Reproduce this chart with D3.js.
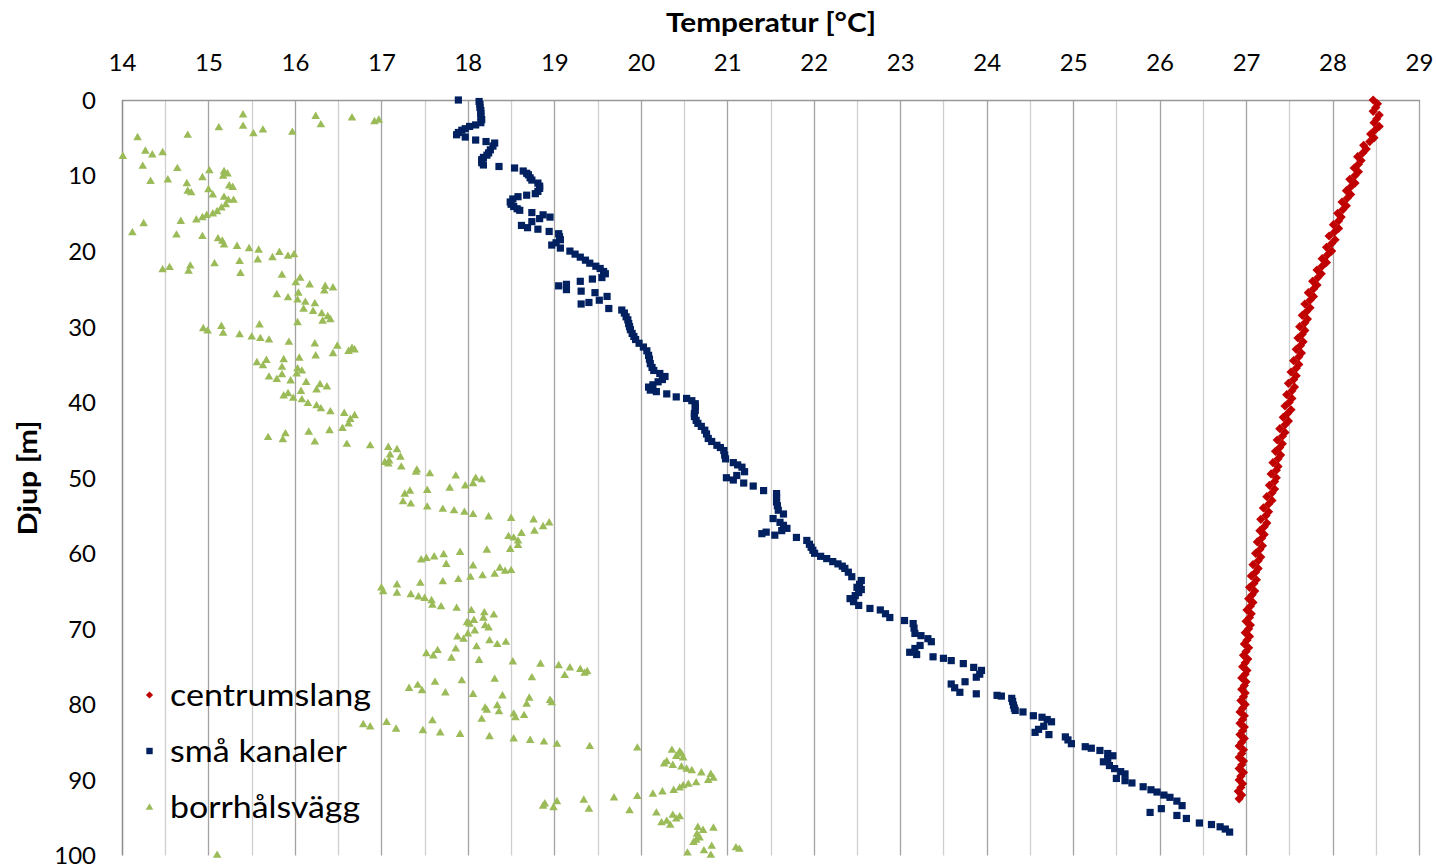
<!DOCTYPE html>
<html>
<head>
<meta charset="utf-8">
<script src="https://cdn.jsdelivr.net/npm/d3@7"></script>
<style>
  html, body { margin: 0; padding: 0; background: #ffffff; }
  svg { display: block; }
  text { font-family: Lato, "Open Sans", "Noto Sans", sans-serif; fill: #000; }
</style>
</head>
<body>
<svg id="chart" width="1436" height="868"></svg>
<script>
// Axis ticks
const tempTicks = [14, 15, 16, 17, 18, 19, 20, 21, 22, 23, 24, 25, 26, 27, 28, 29];
const tempMinorTicks = [14.5, 15.5, 16.5, 17.5, 18.5, 19.5, 20.5, 21.5, 22.5, 23.5, 24.5, 25.5, 26.5, 27.5, 28.5];
const depthTicks = [0, 10, 20, 30, 40, 50, 60, 70, 80, 90, 100];

// Series names
const seriesNames = ["centrumslang", "små kanaler", "borrhålsvägg"];

// centrumslang: [depth m, temperature °C]
const centrumslang = [
[0,28.47],[0.5,28.52],[1,28.50],[1.5,28.47],[2,28.54],[2.5,28.51],[3,28.48],[3.5,28.54],[4,28.49],[4.5,28.44],
[5,28.48],[5.5,28.43],[6,28.36],[6.5,28.39],[7,28.35],[7.5,28.29],[8,28.33],[8.5,28.30],[9,28.25],[9.5,28.30],
[10,28.26],[10.5,28.20],[11,28.26],[11.5,28.21],[12,28.16],[12.5,28.21],[13,28.17],[13.5,28.11],[14,28.16],[14.5,28.12],
[15,28.06],[15.5,28.10],[16,28.07],[16.5,28.01],[17,28.07],[17.5,28.02],[18,27.96],[18.5,28.03],[19,27.99],[19.5,27.93],
[20,27.99],[20.5,27.94],[21,27.88],[21.5,27.93],[22,27.88],[22.5,27.82],[23,27.87],[23.5,27.83],[24,27.77],[24.5,27.82],
[25,27.78],[25.5,27.72],[26,27.78],[26.5,27.74],[27,27.68],[27.5,27.74],[28,27.70],[28.5,27.65],[29,27.71],[29.5,27.68],
[30,27.62],[30.5,27.68],[31,27.65],[31.5,27.60],[32,27.66],[32.5,27.63],[33,27.58],[33.5,27.64],[34,27.61],[34.5,27.55],
[35,27.61],[35.5,27.58],[36,27.52],[36.5,27.58],[37,27.55],[37.5,27.49],[38,27.56],[38.5,27.53],[39,27.47],[39.5,27.53],
[40,27.50],[40.5,27.45],[41,27.52],[41.5,27.48],[42,27.43],[42.5,27.49],[43,27.45],[43.5,27.39],[44,27.45],[44.5,27.42],
[45,27.36],[45.5,27.42],[46,27.39],[46.5,27.34],[47,27.40],[47.5,27.37],[48,27.31],[48.5,27.37],[49,27.35],[49.5,27.29],
[50,27.35],[50.5,27.33],[51,27.27],[51.5,27.33],[52,27.30],[52.5,27.24],[53,27.30],[53.5,27.26],[54,27.20],[54.5,27.26],
[55,27.23],[55.5,27.17],[56,27.24],[56.5,27.21],[57,27.16],[57.5,27.21],[58,27.18],[58.5,27.13],[59,27.19],[59.5,27.16],
[60,27.11],[60.5,27.17],[61,27.14],[61.5,27.08],[62,27.14],[62.5,27.11],[63,27.06],[63.5,27.12],[64,27.09],[64.5,27.04],
[65,27.10],[65.5,27.07],[66,27.03],[66.5,27.08],[67,27.05],[67.5,27.01],[68,27.06],[68.5,27.04],[69,27.00],[69.5,27.05],
[70,27.03],[70.5,26.99],[71,27.04],[71.5,27.01],[72,26.98],[72.5,27.03],[73,27.00],[73.5,26.97],[74,27.02],[74.5,26.99],
[75,26.96],[75.5,27.01],[76,26.99],[76.5,26.95],[77,27.00],[77.5,26.98],[78,26.95],[78.5,26.99],[79,26.97],[79.5,26.94],
[80,26.99],[80.5,26.96],[81,26.93],[81.5,26.98],[82,26.96],[82.5,26.93],[83,26.98],[83.5,26.96],[84,26.93],[84.5,26.98],
[85,26.95],[85.5,26.92],[86,26.97],[86.5,26.95],[87,26.92],[87.5,26.97],[88,26.95],[88.5,26.92],[89,26.97],[89.5,26.94],
[90,26.92],[90.5,26.96],[91,26.94],[91.5,26.91],[92,26.95],[92.5,26.92]
];

// små kanaler: [depth m, temperature °C]
const smaKanaler = [
[0.0,17.89],[0.2,18.13],[0.6,18.14],[1.0,18.14],[1.4,18.15],[1.8,18.15],[2.2,18.15],[2.6,18.16],[3.0,18.15],[3.3,18.09],
[3.5,18.02],[3.8,17.97],[4.0,17.93],[4.3,17.89],[4.6,17.87],[4.9,17.97],[5.3,18.09],[5.5,18.21],[5.7,18.31],[6.1,18.29],
[6.6,18.26],[7.0,18.24],[7.3,18.22],[7.6,18.18],[7.9,18.16],[8.3,18.16],[8.6,18.18],[8.8,18.36],[9.0,18.54],[9.4,18.64],
[9.7,18.68],[9.9,18.70],[10.3,18.72],[10.6,18.74],[11.0,18.81],[11.4,18.83],[11.7,18.83],[12.1,18.81],[12.4,18.78],[12.6,18.68],
[12.8,18.58],[13.1,18.52],[13.5,18.49],[13.8,18.50],[14.1,18.53],[14.4,18.57],[14.6,18.60],[14.9,18.74],[15.2,18.87],[15.5,18.95],
[15.7,18.83],[16.1,18.74],[16.6,18.62],[16.9,18.69],[17.1,18.81],[17.4,18.94],[17.7,19.05],[18.1,19.06],[18.5,19.07],[18.9,19.02],
[19.2,18.97],[19.6,19.07],[20.0,19.18],[20.4,19.24],[20.8,19.30],[21.2,19.36],[21.6,19.41],[22.0,19.48],[22.3,19.53],[22.7,19.57],
[23.0,19.59],[23.5,19.55],[23.7,19.44],[24.0,19.30],[24.4,19.14],[24.6,19.05],[25.1,19.14],[25.3,19.31],[25.5,19.47],[26.0,19.61],
[26.5,19.52],[26.8,19.40],[27.0,19.31],[27.6,19.63],[27.8,19.78],[28.2,19.81],[28.7,19.83],[29.1,19.85],[29.6,19.86],[30.0,19.87],
[30.4,19.88],[30.9,19.90],[31.3,19.92],[31.7,19.94],[32.2,19.98],[32.7,20.03],[33.2,20.07],[33.8,20.09],[34.3,20.10],[34.9,20.11],
[35.4,20.13],[35.8,20.15],[36.2,20.22],[36.6,20.28],[37.0,20.25],[37.3,20.20],[37.7,20.14],[38.0,20.09],[38.4,20.11],[38.6,20.18],
[38.9,20.30],[39.3,20.41],[39.5,20.53],[39.8,20.59],[40.2,20.63],[40.6,20.63],[41.1,20.63],[41.5,20.62],[41.9,20.62],[42.4,20.64],
[42.8,20.66],[43.2,20.70],[43.7,20.74],[44.2,20.76],[44.8,20.78],[45.2,20.82],[45.7,20.88],[46.0,20.92],[46.4,20.96],[47.0,20.97],
[47.5,20.98],[48.0,21.07],[48.3,21.12],[48.6,21.17],[49.2,21.20],[49.7,21.11],[50.0,20.99],[50.3,21.07],[50.7,21.19],[51.1,21.30],
[51.7,21.42],[52.1,21.57],[52.6,21.57],[53.2,21.57],[53.7,21.58],[54.3,21.59],[54.8,21.65],[55.4,21.53],[55.9,21.61],[56.3,21.65],
[56.7,21.69],[57.0,21.63],[57.2,21.45],[57.4,21.40],[57.6,21.55],[57.9,21.80],[58.3,21.92],[58.8,21.95],[59.2,21.97],[59.6,21.99],
[60.0,22.01],[60.4,22.08],[60.7,22.15],[61.1,22.22],[61.4,22.28],[61.7,22.33],[62.0,22.36],[62.5,22.40],[63.1,22.44],[63.6,22.55],
[64.1,22.53],[64.5,22.50],[64.8,22.55],[65.2,22.52],[65.6,22.48],[66.0,22.42],[66.4,22.46],[66.9,22.52],[67.3,22.65],[67.5,22.77],
[68.0,22.83],[68.5,22.88],[68.9,23.05],[69.3,23.15],[69.9,23.16],[70.6,23.17],[70.9,23.24],[71.3,23.32],[71.7,23.36],[72.2,23.23],
[72.6,23.17],[73.1,23.11],[73.4,23.19],[73.7,23.38],[73.9,23.50],[74.2,23.59],[74.6,23.73],[75.1,23.85],[75.5,23.94],[76.0,23.92],
[76.4,23.88],[77.0,23.75],[77.3,23.59],[77.8,23.63],[78.4,23.69],[78.6,23.88],[78.8,24.12],[78.9,24.17],[79.2,24.29],[79.6,24.30],
[80.1,24.31],[80.5,24.32],[80.8,24.33],[81.0,24.42],[81.5,24.54],[81.7,24.64],[82.0,24.70],[82.3,24.75],[82.9,24.66],[83.3,24.60],
[83.7,24.56],[84.0,24.72],[84.3,24.91],[84.7,24.94],[85.2,24.98],[85.6,25.14],[85.8,25.21],[86.1,25.31],[86.5,25.40],[86.8,25.46],
[87.2,25.40],[87.6,25.35],[88.1,25.42],[88.5,25.48],[88.9,25.55],[89.2,25.60],[89.8,25.50],[90.1,25.60],[90.4,25.68],[90.9,25.81],
[91.3,25.90],[91.6,25.97],[92.0,26.05],[92.3,26.12],[92.8,26.20],[93.4,26.26],[93.8,26.02],[94.3,25.89],[94.7,26.20],[95.1,26.31],
[95.7,26.46],[95.9,26.60],[96.2,26.70],[96.5,26.76],[96.9,26.81]
];

// borrhålsvägg: [depth m, temperature °C]
const borrhalsvagg = [
[1.9,15.40],[3.6,15.12],[3.4,15.40],[4.4,15.52],[3.9,15.63],[4.2,15.97],[2.1,16.24],[3.2,16.30],[2.3,16.66],[2.8,16.92],
[2.6,16.97],[4.9,14.18],[4.6,14.76],[7.4,14.01],[6.7,14.27],[7.2,14.35],[6.9,14.47],[8.7,14.24],[9.0,14.64],[10.7,14.33],
[10.5,14.53],[11.0,14.75],[12.0,14.76],[12.2,14.80],[10.2,14.93],[9.3,15.01],[9.4,15.18],[9.7,15.22],[10.0,15.17],[11.8,15.00],
[12.5,15.05],[11.3,15.24],[11.5,15.28],[12.8,15.18],[13.2,15.23],[13.2,15.29],[13.8,15.20],[14.2,15.15],[14.7,15.10],[15.0,15.05],
[15.2,14.98],[15.5,14.93],[15.8,14.86],[16.3,14.25],[17.5,14.12],[16.0,14.68],[17.8,14.63],[18.0,14.93],[18.3,15.11],[18.6,15.16],
[19.1,15.18],[19.3,15.33],[19.6,15.47],[19.8,15.58],[21.3,15.36],[21.1,15.57],[20.8,15.74],[20.1,15.82],[20.6,15.92],[20.4,15.99],
[21.6,15.07],[22.9,15.37],[22.4,14.47],[22.1,14.55],[21.9,14.79],[22.6,14.77],[23.1,15.85],[23.5,16.06],[24.1,16.01],[24.4,16.17],
[24.6,16.35],[24.8,16.44],[25.2,16.34],[25.7,15.79],[26.1,15.92],[25.5,16.04],[26.4,16.03],[26.7,16.12],[27.6,16.10],[26.9,16.23],
[27.9,16.21],[28.2,16.31],[28.6,16.38],[29.0,16.41],[29.2,16.32],[29.4,16.03],[29.7,15.59],[30.2,14.94],[30.5,14.99],[29.9,15.15],
[30.8,15.17],[31.0,15.36],[31.3,15.50],[31.5,15.60],[31.7,15.70],[32.0,15.93],[32.2,16.23],[32.5,16.49],[33.5,16.44],[33.8,16.24],
[34.1,16.05],[34.3,15.87],[33.2,16.62],[32.8,16.66],[33.0,16.69],[34.7,15.56],[35.1,15.63],[34.4,15.67],[35.3,15.85],[35.5,16.03],
[35.8,16.08],[36.2,16.02],[36.3,15.85],[36.6,15.70],[36.9,15.79],[37.1,15.95],[37.3,16.13],[37.6,16.29],[37.9,16.37],[38.3,16.25],
[38.5,16.07],[39.1,15.87],[38.8,15.92],[39.4,15.98],[39.6,16.08],[40.1,16.15],[40.4,16.25],[40.8,16.30],[41.2,16.41],[41.4,16.57],
[41.7,16.69],[42.2,16.64],[42.8,16.62],[43.4,16.55],[43.7,16.40],[43.9,16.16],[44.1,15.89],[44.6,15.69],[44.9,15.86],[45.2,16.23],
[45.5,16.60],[45.7,16.87],[45.9,17.08],[46.2,17.18],[46.9,17.10],[47.2,17.22],[47.9,17.04],[47.7,17.09],[48.5,17.23],[48.9,17.41],
[49.4,17.56],[48.1,17.08],[49.2,17.40],[49.7,17.86],[50.0,18.09],[50.2,18.16],[50.7,18.06],[51.0,17.97],[51.3,17.79],[51.6,17.53],
[51.7,17.33],[52.1,17.27],[53.1,17.25],[53.4,17.34],[53.8,17.53],[54.1,17.71],[54.3,17.84],[54.5,17.96],[54.8,18.06],[55.1,18.24],
[55.3,18.50],[55.5,18.76],[55.9,18.94],[56.4,18.87],[57.0,18.77],[57.3,18.62],[57.7,18.47],[57.9,18.53],[58.3,18.58],[58.9,18.58],
[59.4,18.49],[59.5,18.22],[59.8,17.91],[60.1,17.72],[60.4,17.61],[60.6,17.52],[60.8,17.46],[61.4,17.75],[61.6,18.06],[61.9,18.37],
[62.3,18.43],[62.2,18.50],[62.7,18.31],[62.9,18.17],[63.1,18.03],[63.4,17.89],[63.7,17.71],[63.9,17.45],[64.1,17.18],[64.5,17.00],
[65.0,17.02],[65.2,17.18],[65.4,17.34],[65.7,17.43],[65.9,17.50],[66.2,17.58],[66.8,17.59],[67.0,17.69],[67.2,17.87],[67.5,18.04],
[67.8,18.19],[68.1,18.30],[68.5,18.18],[68.8,18.07],[69.1,17.99],[69.3,18.02],[69.5,18.20],[69.8,18.24],[70.2,18.08],[70.6,18.00],
[71.0,17.88],[71.3,17.95],[71.5,18.25],[72.0,18.34],[71.7,18.44],[72.3,18.10],[72.6,17.86],[72.8,17.65],[73.2,17.52],[73.5,17.60],
[73.8,17.81],[74.1,18.13],[74.3,18.52],[74.6,18.84],[74.8,19.05],[75.1,19.18],[75.3,19.30],[75.6,19.38],[75.8,19.35],[76.1,19.12],
[76.4,18.74],[76.6,18.31],[76.8,17.93],[77.0,17.62],[77.8,17.32],[77.4,17.42],[78.1,17.47],[78.4,17.74],[78.6,18.06],[78.8,18.40],
[79.1,18.71],[79.9,18.68],[79.4,18.95],[79.7,18.97],[80.4,18.20],[80.7,18.22],[80.1,18.34],[80.9,18.36],[81.9,18.16],[81.2,18.53],
[81.7,18.55],[81.4,18.65],[82.6,16.79],[82.9,16.87],[82.3,17.06],[83.2,17.17],[83.4,17.48],[82.1,17.59],[83.7,17.68],[83.9,17.91],
[84.2,18.25],[84.5,18.53],[84.7,18.72],[84.9,18.88],[85.2,19.03],[85.5,19.41],[85.7,19.96],[86.0,20.36],[86.2,20.45],[86.5,20.47],
[86.8,20.41],[87.0,20.49],[87.5,20.30],[87.8,20.27],[88.0,20.37],[88.2,20.47],[88.5,20.53],[88.7,20.59],[89.0,20.70],[89.2,20.81],
[89.7,20.84],[90.0,20.78],[90.3,20.64],[90.5,20.55],[90.7,20.49],[91.0,20.45],[91.3,20.38],[91.5,20.25],[91.8,20.14],[92.1,19.96],
[92.3,19.69],[92.6,19.34],[92.8,19.03],[93.1,18.89],[93.4,18.87],[93.6,18.99],[93.8,19.40],[94.0,19.87],[94.3,20.18],[94.6,20.37],
[94.8,20.45],[95.1,20.41],[95.4,20.30],[95.6,20.24],[95.9,20.34],[96.3,20.84],[96.2,20.66],[96.6,20.72],[97.1,20.65],[97.6,20.68],
[97.9,20.64],[98.2,20.61],[98.7,20.82],[99.3,20.73],[99.6,20.54],[99.9,20.81],[98.9,21.10],[99.1,21.14],[99.9,15.10]
];

const colors = { centrumslang: "#C00000", sma: "#002060", borrhal: "#9BBB59" };

const svg = d3.select("#chart");
const plotLeft = 122, plotRight = 1419, plotTop = 100, plotBottom = 855.5;

const x = d3.scaleLinear().domain([14, 29]).range([plotLeft, plotRight]);
const y = d3.scaleLinear().domain([0, 100]).range([plotTop, plotBottom]);

// Gridlines: minor at half degrees, major at whole degrees
const grid = svg.append("g");
grid.selectAll("line.minor").data(tempMinorTicks).join("line")
  .attr("class", "minor")
  .attr("x1", d => Math.round(x(d)) + 0.5).attr("x2", d => Math.round(x(d)) + 0.5)
  .attr("y1", plotTop).attr("y2", plotBottom)
  .attr("stroke", "#cfcfcf").attr("stroke-width", 1.3);
grid.selectAll("line.major").data(tempTicks.slice(1)).join("line")
  .attr("class", "major")
  .attr("x1", d => Math.round(x(d)) + 0.5).attr("x2", d => Math.round(x(d)) + 0.5)
  .attr("y1", plotTop).attr("y2", plotBottom)
  .attr("stroke", "#a3a3a3").attr("stroke-width", 1.3);

// Top border and left axis line
svg.append("line").attr("x1", plotLeft).attr("x2", plotRight + 1).attr("y1", plotTop + 0.5).attr("y2", plotTop + 0.5)
  .attr("stroke", "#989898").attr("stroke-width", 1.5);
svg.append("line").attr("x1", plotLeft + 0.5).attr("x2", plotLeft + 0.5).attr("y1", plotTop).attr("y2", plotBottom)
  .attr("stroke", "#8c8c8c").attr("stroke-width", 1.5);

// Temperature axis labels along the top
const xAxis = d3.axisTop(x).tickValues(tempTicks).tickSize(0).tickPadding(29).tickFormat(d3.format("d"));
const gx = svg.append("g").attr("transform", `translate(0,${plotTop})`).call(xAxis);
gx.select(".domain").remove();
gx.selectAll("text").attr("font-size", 24).attr("font-family", "Lato, 'Open Sans', sans-serif").attr("fill", "#000");

// Depth axis labels
const yAxis = d3.axisLeft(y).tickValues(depthTicks).tickSize(0).tickPadding(26).tickFormat(d3.format("d"));
const gy = svg.append("g").attr("transform", `translate(${plotLeft},0)`).call(yAxis);
gy.select(".domain").remove();
gy.selectAll("text").attr("font-size", 24).attr("font-family", "Lato, 'Open Sans', sans-serif").attr("fill", "#000")
  .attr("dy", "0.35em");

// Axis titles
svg.append("text").attr("x", 771).attr("y", 32).attr("text-anchor", "middle")
  .attr("font-size", 27).attr("font-weight", "bold")
  .attr("textLength", 210).attr("lengthAdjust", "spacingAndGlyphs")
  .text("Temperatur [°C]");
svg.append("text").attr("transform", "translate(37,478) rotate(-90)").attr("text-anchor", "middle")
  .attr("font-size", 27).attr("font-weight", "bold")
  .attr("textLength", 115).attr("lengthAdjust", "spacingAndGlyphs")
  .text("Djup [m]");

// Marker shapes
const diamond = r => `M0,${-r}L${r},0L0,${r}L${-r},0Z`;
const square = s => `M${-s/2},${-s/2}h${s}v${s}h${-s}Z`;
const triangle = (w, h) => `M0,${-h*0.58}L${w/2},${h*0.42}L${-w/2},${h*0.42}Z`;

// borrhålsvägg
svg.append("g").selectAll("path").data(borrhalsvagg).join("path")
  .attr("transform", d => `translate(${x(d[1])},${y(d[0])})`)
  .attr("d", triangle(8.6, 7.4))
  .attr("fill", colors.borrhal);

// små kanaler
svg.append("g").selectAll("path").data(smaKanaler).join("path")
  .attr("transform", d => `translate(${x(d[1])},${y(d[0])})`)
  .attr("d", square(7.2))
  .attr("fill", colors.sma);

// centrumslang
svg.append("g").selectAll("path").data(centrumslang).join("path")
  .attr("transform", d => `translate(${x(d[1])},${y(d[0])})`)
  .attr("d", diamond(4.6))
  .attr("fill", colors.centrumslang);

// Legend
const legendRows = [
  { name: seriesNames[0], shape: diamond(3.6), color: colors.centrumslang, cy: 695, len: 201 },
  { name: seriesNames[1], shape: square(6.4), color: colors.sma, cy: 751, len: 177 },
  { name: seriesNames[2], shape: triangle(7.6, 6.6), color: colors.borrhal, cy: 807, len: 190 }
];
const lg = svg.append("g");
legendRows.forEach(r => {
  lg.append("path").attr("transform", `translate(149.5,${r.cy})`).attr("d", r.shape).attr("fill", r.color);
  lg.append("text").attr("x", 170).attr("y", r.cy + 11).attr("font-size", 30)
    .attr("textLength", r.len).attr("lengthAdjust", "spacingAndGlyphs")
    .text(r.name);
});
</script>
</body>
</html>
